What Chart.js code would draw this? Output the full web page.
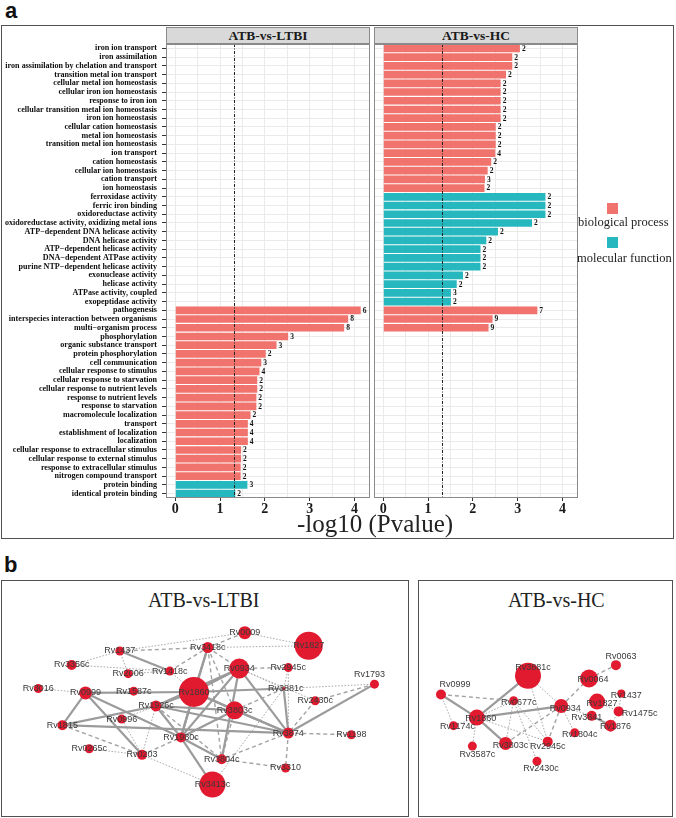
<!DOCTYPE html>
<html>
<head>
<meta charset="utf-8">
<script src="https://cdn.jsdelivr.net/npm/chart.js@4.4.0/dist/chart.umd.min.js"></script>
<style>
html,body{margin:0;padding:0;background:#fff;}
body{width:676px;height:818px;position:relative;overflow:hidden;font-family:'Liberation Sans',Arial,sans-serif;}
.abs{position:absolute;}
canvas{position:absolute;display:block;}
.strip{position:absolute;box-sizing:border-box;background:#d9d9d9;border:1px solid #8a8a8a;text-align:center;font:bold 13.5px 'Liberation Serif',serif;line-height:15px;color:#1a1a1a;}
.frame{position:absolute;box-sizing:border-box;border:1.5px solid #505050;}
.ttl{position:absolute;font:20px 'Liberation Serif',serif;color:#222;white-space:nowrap;line-height:20px;}
.leg{position:absolute;font:12.5px 'Liberation Serif',serif;color:#222;white-space:nowrap;line-height:14px;}
.sq{position:absolute;width:11px;height:11px;}
</style>
</head>
<body>
<div class="abs" style="left:5px;top:-2px;font:bold 22px 'Liberation Sans',sans-serif;color:#111;">a</div>
<div class="frame" style="left:1px;top:25px;width:673px;height:514px;"></div>
<div class="strip" style="left:166px;top:27px;width:204px;height:17px;">ATB-vs-LTBI</div>
<div class="strip" style="left:374px;top:27px;width:204px;height:17px;">ATB-vs-HC</div>
<canvas id="cL" width="372" height="478" style="left:0px;top:43.5px;width:372px;height:478px;"></canvas>
<canvas id="cR" width="205" height="478" style="left:374px;top:43.5px;width:205px;height:478px;"></canvas>
<div class="abs" style="left:235px;width:280px;top:510px;text-align:center;font:25px 'Liberation Serif',serif;color:#222;line-height:28px;">-log10 (Pvalue)</div>
<div class="sq" style="left:607px;top:203px;background:#F0736D;"></div>
<div class="leg" style="left:578px;top:215px;">biological process</div>
<div class="sq" style="left:607px;top:237px;background:#27B7BF;"></div>
<div class="leg" style="left:577px;top:251px;">molecular function</div>

<div class="abs" style="left:4px;top:552px;font:bold 22px 'Liberation Sans',sans-serif;color:#111;">b</div>
<div class="frame" style="left:1px;top:580px;width:408px;height:237px;"></div>
<div class="frame" style="left:418px;top:580px;width:255px;height:237px;"></div>
<div class="ttl" style="left:148px;top:590px;">ATB-vs-LTBI</div>
<div class="ttl" style="left:508px;top:590px;">ATB-vs-HC</div>
<canvas id="nL" width="406" height="236" style="left:2px;top:581px;width:406px;height:236px;"></canvas>
<canvas id="nR" width="253" height="235" style="left:419px;top:581px;width:253px;height:235px;"></canvas>

<script>
// ---------------- DATA (panel a) ----------------
const categories = [
  'iron ion transport','iron assimilation','iron assimilation by chelation and transport',
  'transition metal ion transport','cellular metal ion homeostasis','cellular iron ion homeostasis',
  'response to iron ion','cellular transition metal ion homeostasis','iron ion homeostasis',
  'cellular cation homeostasis','metal ion homeostasis','transition metal ion homeostasis',
  'ion transport','cation homeostasis','cellular ion homeostasis','cation transport','ion homeostasis',
  'ferroxidase activity','ferric iron binding','oxidoreductase activity',
  'oxidoreductase activity, oxidizing metal ions','ATP\u2212dependent DNA helicase activity',
  'DNA helicase activity','ATP\u2212dependent helicase activity','DNA\u2212dependent ATPase activity',
  'purine NTP\u2212dependent helicase activity','exonuclease activity','helicase activity',
  'ATPase activity, coupled','exopeptidase activity',
  'pathogenesis','interspecies interaction between organisms','multi\u2212organism process',
  'phosphorylation','organic substance transport','protein phosphorylation','cell communication',
  'cellular response to stimulus','cellular response to starvation','cellular response to nutrient levels',
  'response to nutrient levels','response to starvation','macromolecule localization','transport',
  'establishment of localization','localization','cellular response to extracellular stimulus',
  'cellular response to external stimulus','response to extracellular stimulus',
  'nitrogen compound transport','protein binding','identical protein binding'
];
const goType = [
  'BP','BP','BP','BP','BP','BP','BP','BP','BP','BP','BP','BP','BP','BP','BP','BP','BP',
  'MF','MF','MF','MF','MF','MF','MF','MF','MF','MF','MF','MF','MF',
  'BP','BP','BP','BP','BP','BP','BP','BP','BP','BP','BP','BP','BP','BP','BP','BP','BP','BP','BP','BP',
  'MF','MF'
];
const ltbiValues = [
  null,null,null,null,null,null,null,null,null,null,null,null,null,null,null,null,null,
  null,null,null,null,null,null,null,null,null,null,null,null,null,
  4.14,3.86,3.77,2.52,2.26,2.02,1.92,1.88,1.83,1.83,1.81,1.81,1.68,1.62,1.62,1.62,1.47,1.47,1.46,1.46,
  1.61,1.34
];
const ltbiCounts = [
  null,null,null,null,null,null,null,null,null,null,null,null,null,null,null,null,null,
  null,null,null,null,null,null,null,null,null,null,null,null,null,
  6,8,8,3,3,2,3,4,2,2,2,2,2,4,4,4,2,2,2,2,
  3,2
];
const hcValues = [
  3.05,2.88,2.88,2.74,2.62,2.62,2.62,2.62,2.62,2.51,2.51,2.51,2.50,2.41,2.33,2.27,2.26,
  3.62,3.62,3.62,3.32,2.56,2.30,2.17,2.17,2.17,1.78,1.64,1.51,1.51,
  3.44,2.44,2.35,null,null,null,null,null,null,null,null,null,null,null,null,null,null,null,null,null,
  null,null
];
const hcCounts = [
  2,2,2,2,2,2,2,2,2,2,2,2,4,2,2,3,2,
  2,2,2,2,2,2,2,2,2,2,2,3,2,
  7,9,9,null,null,null,null,null,null,null,null,null,null,null,null,null,null,null,null,null,
  null,null
];
const xTickValues = [0,0.5,1,1.5,2,2.5,3,3.5,4];
const THRESHOLD = 1.3;   // -log10(0.05)
const X_MIN = -0.207, X_MAX = 4.347;

// ---------------- DATA (panel b networks) ----------------
const ltbiNodes = [
  ['Rv1437',111,63,4.5],['Rv3356c',59,79,5],['Rv2006',120,89,4.5],['Rv1418c',165,86,4.5],
  ['Rv3016',23,106,4.5],['Rv0999',74,111,6.5],['Rv1587c',126,109,4.5],['Rv1860',191,110,15],
  ['Rv1926c',150,126,5.5],['Rv0996',113,141,4.5],['Rv1815',49,148,5],['Rv1980c',177,162,5],
  ['Rv0265c',78,175,4.5],['Rv0203',135,182,5],['Rv3418c',206,59,5.5],['Rv0009',246,42,6.5],
  ['Rv1827',315,57,14],['Rv0934',240,83,10],['Rv2945c',293,82,4.5],['Rv1793',386,101,4.5],
  ['Rv3881c',288,106,1.5],['Rv2430c',322,120,4.5],['Rv3803c',235,131,9],['Rv3874',293,157,5.5],
  ['Rv1198',361,159,4.5],['Rv3804c',221,187,5],['Rv3310',290,197,4.5],['Rv3413c',211,216,13]
];
const ltbiEdges = [
  ['Rv1437','Rv1418c','s'],['Rv0999','Rv1860','s'],['Rv0999','Rv1815','s'],['Rv0999','Rv1980c','s'],
  ['Rv0999','Rv0203','s'],['Rv1815','Rv1926c','s'],['Rv1815','Rv3874','s'],['Rv1926c','Rv1860','s'],
  ['Rv1926c','Rv1980c','s'],['Rv1926c','Rv3803c','s'],['Rv1926c','Rv0934','s'],['Rv1926c','Rv3874','s'],
  ['Rv1980c','Rv1860','s'],['Rv1980c','Rv3418c','s'],['Rv1980c','Rv0934','s'],['Rv1980c','Rv3803c','s'],
  ['Rv1980c','Rv3804c','s'],['Rv1980c','Rv3413c','s'],['Rv1860','Rv3418c','s'],['Rv1860','Rv0934','s'],
  ['Rv1860','Rv3881c','s'],['Rv1860','Rv3803c','s'],['Rv1860','Rv3874','s'],['Rv0934','Rv3874','s'],
  ['Rv0934','Rv3804c','s'],['Rv3881c','Rv3874','s'],['Rv1793','Rv3874','s'],['Rv3803c','Rv3874','s'],
  ['Rv1437','Rv3418c','d'],['Rv1418c','Rv3418c','d'],['Rv1815','Rv0203','d'],['Rv0203','Rv1980c','d'],
  ['Rv3418c','Rv0009','d'],['Rv3418c','Rv0934','d'],['Rv3418c','Rv3803c','d'],['Rv3418c','Rv3804c','d'],
  ['Rv0934','Rv2945c','d'],['Rv3881c','Rv3803c','d'],['Rv1793','Rv2430c','d'],['Rv2430c','Rv3874','d'],
  ['Rv3803c','Rv3804c','d'],['Rv3874','Rv1198','d'],['Rv3874','Rv3310','d'],['Rv3874','Rv3804c','d'],
  ['Rv3804c','Rv3310','d'],['Rv1926c','Rv3804c','d'],
  ['Rv1437','Rv2006','o'],['Rv1437','Rv0009','o'],['Rv3356c','Rv1437','o'],['Rv3356c','Rv1418c','o'],
  ['Rv2006','Rv1418c','o'],['Rv3016','Rv0999','o'],['Rv0265c','Rv0203','o'],['Rv0203','Rv1926c','o'],
  ['Rv0203','Rv3413c','o'],['Rv0203','Rv0996','o'],['Rv0996','Rv1926c','o'],['Rv3418c','Rv1827','o'],
  ['Rv0009','Rv1827','o'],['Rv0934','Rv3881c','o'],['Rv0934','Rv2430c','o'],['Rv2945c','Rv3874','o'],
  ['Rv2945c','Rv3881c','o'],['Rv3881c','Rv1793','o'],['Rv3881c','Rv3413c','o'],['Rv1418c','Rv1860','o']
];
const hcNodes = [
  ['Rv3881c',107,92,13],['Rv0063',205,80,5],['Rv0064',175,95,9],['Rv0999',10,113,5],
  ['Rv0677c',91,120,4.5],['Rv0934',144,126,7],['Rv1827',184,121,8],['Rv1437',211,112,4],
  ['Rv1475c',208,132,5],['Rv1860',50,139,8],['Rv3841',178,137,5],['Rv1876',199,148,6],
  ['Rv1174c',24,148,4.5],['Rv1804c',159,156,4.5],['Rv3803c',82,168,6.5],['Rv2945c',129,166,5],
  ['Rv3587c',45,171,4.5],['Rv2430c',117,188,4.5]
];
const hcEdges = [
  ['Rv3881c','Rv1860','s'],['Rv1860','Rv0999','s'],['Rv1860','Rv0934','s'],['Rv1860','Rv3803c','s'],
  ['Rv3841','Rv1876','s'],
  ['Rv0999','Rv0677c','d'],['Rv0934','Rv0064','d'],['Rv0934','Rv3803c','d'],['Rv0064','Rv0063','d'],
  ['Rv0934','Rv2945c','d'],
  ['Rv1860','Rv1174c','o'],['Rv1860','Rv3587c','o'],['Rv1860','Rv2945c','o'],['Rv0999','Rv1174c','o'],
  ['Rv3881c','Rv0934','o'],['Rv3881c','Rv2945c','o'],['Rv0677c','Rv3803c','o'],['Rv0677c','Rv2945c','o'],
  ['Rv0677c','Rv2430c','o'],['Rv0934','Rv1804c','o'],['Rv0934','Rv3841','o'],['Rv1437','Rv1475c','o'],
  ['Rv1827','Rv1475c','o'],['Rv1475c','Rv1876','o'],['Rv1860','Rv0677c','o']
];

// ---------------- STYLE ----------------
const SERIF = "'Liberation Serif', 'Times New Roman', serif";
const SANS = "'Liberation Sans', Arial, sans-serif";
const BP_COLOR = '#F0736D', MF_COLOR = '#27B7BF';
const NODE_COLOR = '#E21A2F';
const EDGE_STYLE = {
  s: {color:'#9b9b9b', width:2.2, dash:[]},
  d: {color:'#a3a3a3', width:1.4, dash:[4,3]},
  o: {color:'#ababab', width:1, dash:[1.6,1.6]}
};
const ltbiLabelOffsets = { 'Rv1793':[-5,-10], 'Rv3881c':[2,0] };
const hcLabelOffsets = {
  'Rv3881c':[5,-8],'Rv0063':[5,-9],'Rv0064':[4,1],'Rv0999':[14,-10],'Rv0677c':[5,2],'Rv0934':[4,2],
  'Rv1827':[5,2],'Rv1437':[5,2],'Rv1475c':[21,2],'Rv1860':[4,1],'Rv3841':[-5,2],'Rv1876':[5,1],
  'Rv1174c':[4,1],'Rv1804c':[5,2],'Rv3803c':[5,2],'Rv2945c':[0,5],'Rv3587c':[5,8],'Rv2430c':[4,7]
};

// ---------------- PANEL a ----------------
function buildDatasets(values, counts) {
  return [
    {label:'biological process', data: values.map((v,i)=> goType[i]==='BP' ? v : null),
     backgroundColor: BP_COLOR, counts: counts},
    {label:'molecular function', data: values.map((v,i)=> goType[i]==='MF' ? v : null),
     backgroundColor: MF_COLOR, counts: counts}
  ];
}
const panelPlugin = {
  id:'panelDeco',
  afterDatasetsDraw(chart) {
    const ctx = chart.ctx, a = chart.chartArea, x = chart.scales.x;
    ctx.save();
    const px = Math.round(x.getPixelForValue(THRESHOLD)) + 0.5;
    ctx.strokeStyle = '#222'; ctx.lineWidth = 1; ctx.setLineDash([3,1.5,1,1.5]);
    ctx.beginPath(); ctx.moveTo(px, a.top); ctx.lineTo(px, a.bottom); ctx.stroke();
    ctx.setLineDash([]);
    ctx.fillStyle = '#111'; ctx.font = 'bold 7.5px ' + SERIF; ctx.textBaseline = 'middle'; ctx.textAlign = 'left';
    chart.data.datasets.forEach((ds, di) => {
      const meta = chart.getDatasetMeta(di);
      meta.data.forEach((bar, i) => {
        if (ds.data[i] == null) return;
        ctx.fillText(String(ds.counts[i]), bar.x + 2, bar.y + 0.5);
      });
    });
    ctx.strokeStyle = '#8a8a8a'; ctx.lineWidth = 1;
    ctx.strokeRect(a.left + 0.5, a.top + 0.5, a.width - 1, a.height - 1);
    ctx.restore();
  }
};
function barChart(id, values, counts, showLabels) {
  return new Chart(document.getElementById(id), {
    type:'bar',
    data:{labels: categories, datasets: buildDatasets(values, counts)},
    plugins:[panelPlugin],
    options:{
      indexAxis:'y', responsive:false, animation:false,
      layout:{padding:{left:0, right: showLabels ? 2 : 1, top:0, bottom:0}},
      plugins:{legend:{display:false}, tooltip:{enabled:false}, title:{display:false}},
      datasets:{bar:{grouped:false, skipNull:true, categoryPercentage:1, barPercentage:0.88, borderWidth:0}},
      scales:{
        x:{type:'linear', min:X_MIN, max:X_MAX,
           afterBuildTicks: s => { s.ticks = xTickValues.map(v => ({value:v})); },
           ticks:{autoSkip:false, maxRotation:0, padding:0, color:'#1a1a1a',
                  font:{family:SERIF, weight:'bold', size:14},
                  callback: v => Number.isInteger(v) ? String(v) : ''},
           grid:{color:'#eaeaea', lineWidth:1, drawTicks:true, tickLength:3,
                 tickColor: c => (c.tick && Number.isInteger(c.tick.value)) ? '#333' : 'rgba(0,0,0,0)'},
           border:{display:false},
           afterFit: s => { s.height = 24; s.paddingLeft = 0; s.paddingRight = 0; }
        },
        y:{type:'category',
           ticks:{display:showLabels, autoSkip:false, padding:5, color:'#0d0d0d',
                  font:{family:SERIF, weight:'bold', size:8.1}},
           grid:{offset:false, color:'#eaeaea', lineWidth:1, drawTicks:showLabels, tickLength:4, tickColor:'#333'},
           border:{display:false},
           afterFit: s => { s.width = showLabels ? 166 : 0; s.paddingTop = 0; s.paddingBottom = 0; }
        }
      }
    }
  });
}
barChart('cL', ltbiValues, ltbiCounts, true);
barChart('cR', hcValues, hcCounts, false);

// ---------------- PANEL b ----------------
function netChart(id, nodes, edges, offsets, W, H) {
  const pos = {};
  nodes.forEach(n => { pos[n[0]] = {x:n[1], y:n[2]}; });
  const edgeSets = edges.map(([a, b, k]) => ({
    type:'scatter', data:[{x:pos[a].x, y:pos[a].y}, {x:pos[b].x, y:pos[b].y}],
    showLine:true, pointRadius:0, borderColor:EDGE_STYLE[k].color, borderWidth:EDGE_STYLE[k].width,
    borderDash:EDGE_STYLE[k].dash, order:2, clip:false
  }));
  const nodeSet = {
    type:'bubble', data: nodes.map(n => ({x:n[1], y:n[2], r:n[3]})),
    backgroundColor: NODE_COLOR, borderWidth:0, order:1, clip:false
  };
  const labelPlugin = {
    id:'nodeLabels',
    afterDatasetsDraw(chart) {
      const ctx = chart.ctx, sx = chart.scales.x, sy = chart.scales.y;
      ctx.save();
      ctx.font = '9px ' + SANS; ctx.fillStyle = '#3a3a3a'; ctx.textAlign = 'center'; ctx.textBaseline = 'middle';
      nodes.forEach(n => {
        const off = offsets[n[0]] || [0, 0];
        ctx.fillText(n[0], sx.getPixelForValue(n[1]) + off[0], sy.getPixelForValue(n[2]) + off[1]);
      });
      ctx.restore();
    }
  };
  return new Chart(document.getElementById(id), {
    type:'scatter',
    data:{datasets:[nodeSet].concat(edgeSets)},
    plugins:[labelPlugin],
    options:{
      responsive:false, animation:false,
      layout:{padding:0},
      plugins:{legend:{display:false}, tooltip:{enabled:false}},
      scales:{
        x:{type:'linear', min:0, max:W, display:false},
        y:{type:'linear', min:0, max:H, reverse:true, display:false}
      }
    }
  });
}
netChart('nL', ltbiNodes, ltbiEdges, ltbiLabelOffsets, 406, 236);
netChart('nR', hcNodes, hcEdges, hcLabelOffsets, 253, 235);
</script>
</body>
</html>
